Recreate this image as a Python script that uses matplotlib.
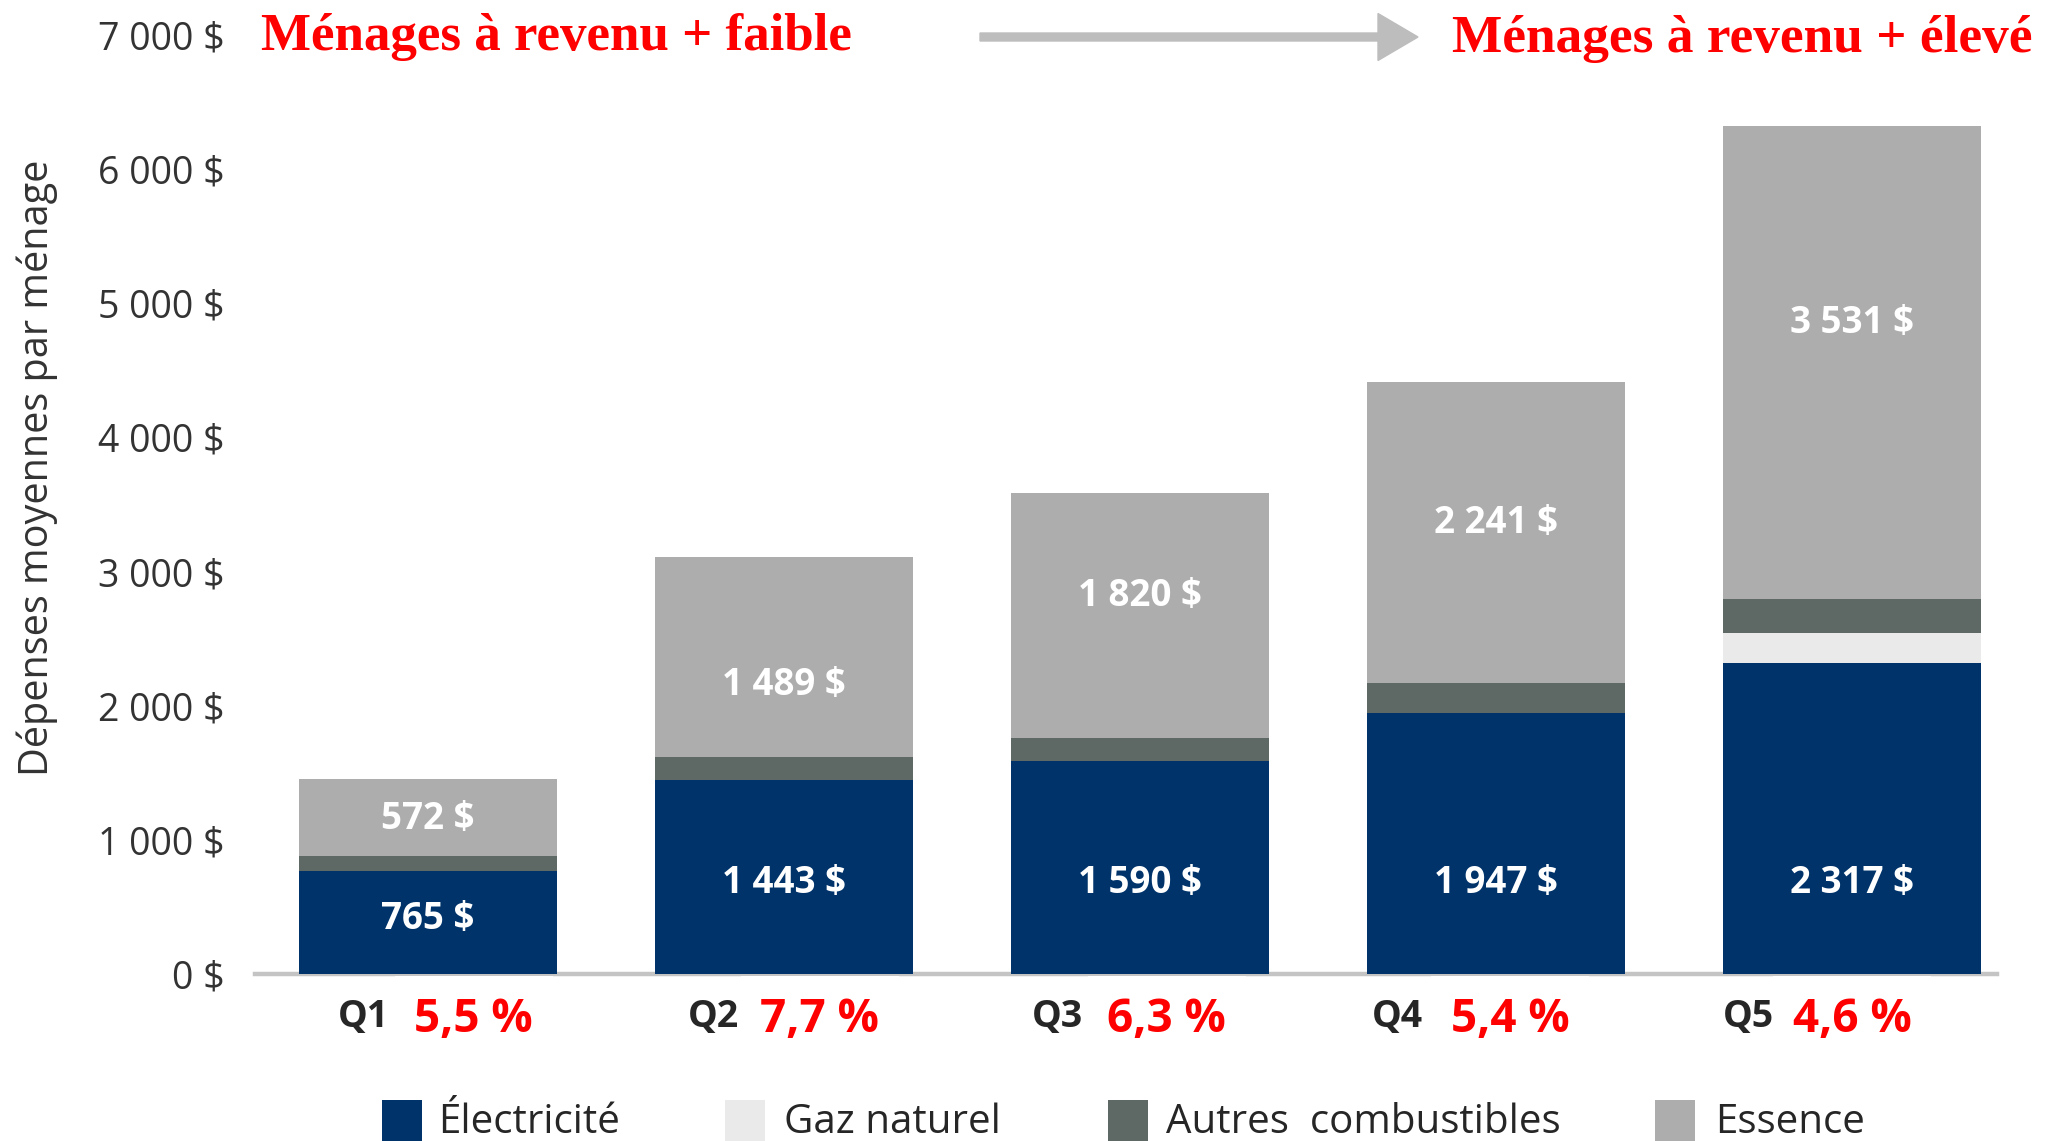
import matplotlib
matplotlib.use("Agg")
import matplotlib.pyplot as plt
from matplotlib.patches import Rectangle, FancyArrow
import matplotlib.transforms as mtransforms
import numpy as np

# data
quintiles = ['Q1', 'Q2', 'Q3', 'Q4', 'Q5']
electricite = [765, 1443, 1590, 1947, 2317]
gaz_naturel = [0, 0, 0, 0, 223]
autres = [118, 176, 173, 223, 252]
essence = [572, 1489, 1820, 2241, 3531]
parts = ['5,5 %', '7,7 %', '6,3 %', '5,4 %', '4,6 %']
yticks = [0, 1000, 2000, 3000, 4000, 5000, 6000, 7000]

series_names = ['Électricité', 'Gaz naturel', 'Autres  combustibles', 'Essence']
colors = ['#00336A', '#EAEAEA', '#5E6864', '#ADADAD']

# label placement (layout), y in data units, x offsets in px
elec_label_y = [410, 677, 677, 677, 677]
ess_label_y = [1153, 2157, 2819, 3362, 4851]
q_dx = [-64, -70, -82, -98, -104]
pct_dx = [46, 36, 27, 14, 0]

W, H = 2049, 1141
fig = plt.figure(figsize=(W / 100, H / 100), dpi=100)

def fx(px):
    return px / W

def fy(py):
    return 1 - py / H

ax = fig.add_axes([fx(255), fy(974), fx(1997) - fx(255), fy(35) - fy(974)])
x = np.arange(len(quintiles))
spacing = 356.1
bw = 258 / spacing

bottom = np.zeros(len(x))
for vals, c in zip([electricite, gaz_naturel, autres, essence], colors):
    ax.bar(x, vals, bw, bottom=bottom, color=c, zorder=2, linewidth=0)
    bottom += np.array(vals)

ax.set_xlim(-(427.5 - 255) / spacing, 4 + (1997 - 1852) / spacing)
ax.set_ylim(0, 7000)
for s in ax.spines.values():
    s.set_visible(False)
ax.axhline(0, color='#C4C4C4', lw=3.2, zorder=1, clip_on=False)

ax.set_xticks([])
ax.set_yticks(yticks)
ax.set_yticklabels(['{:,}'.format(v).replace(',', ' ') + ' $' for v in yticks],
                   fontsize=27, color='#333333', family='Open Sans')
ax.tick_params(axis='y', length=0, pad=22)

fmt = lambda v: '{:,}'.format(v).replace(',', ' ') + ' $'
for i in x:
    ax.text(i, elec_label_y[i], fmt(electricite[i]), ha='center', va='center',
            color='white', fontsize=26.5, fontweight='bold', family='Open Sans', zorder=3)
    ax.text(i, ess_label_y[i], fmt(essence[i]), ha='center', va='center',
            color='white', fontsize=26.5, fontweight='bold', family='Open Sans', zorder=3)

# quintile names and red percentages under the bars
trans = mtransforms.blended_transform_factory(ax.transData, fig.transFigure)
for i in x:
    ax.text(i + q_dx[i] / spacing, fy(1017), quintiles[i], transform=trans,
            ha='center', va='center', fontsize=27, fontweight='bold',
            color='#262626', family='Open Sans')
    cx = i + pct_dx[i] / spacing
    ax.add_patch(Rectangle((cx - 79 / spacing, fy(1057)), 158 / spacing, fy(976) - fy(1057),
                           transform=trans, facecolor='white', edgecolor='none',
                           zorder=1.5, clip_on=False))
    ax.text(cx, fy(1019), parts[i], transform=trans, ha='center', va='center',
            fontsize=33, fontweight='bold', color='#FF0000', family='Open Sans')

fig.text(fx(37), fy(468), 'Dépenses moyennes par ménage', rotation=90,
         ha='center', va='center', fontsize=28.5, color='#333333', family='Open Sans')

# red headings and arrow
fig.text(fx(261), fy(50), 'Ménages à revenu + faible', ha='left', va='baseline',
         fontsize=38.2, fontweight='bold', color='#FF0000', family='Liberation Serif')
fig.text(fx(1452), fy(52), 'Ménages à revenu + élevé', ha='left', va='baseline',
         fontsize=38.4, fontweight='bold', color='#FF0000', family='Liberation Serif')
fig.add_artist(FancyArrow(fx(980), fy(37), fx(1418) - fx(980), 0,
                          width=8 / H, head_width=47 / H, head_length=40 / W,
                          length_includes_head=True, color='#BDBDBD',
                          transform=fig.transFigure))

# legend
leg_sq = [382, 725, 1108, 1655]
leg_tx = [438, 784, 1166, 1715]
for sx, tx, c, name in zip(leg_sq, leg_tx, colors, series_names):
    fig.add_artist(Rectangle((fx(sx), fy(1141)), fx(40), 41 / H,
                             transform=fig.transFigure, facecolor=c, edgecolor='none'))
    fig.text(fx(tx), fy(1123), name, ha='left', va='center', fontsize=29,
             color='#262626', family='Open Sans')

plt.savefig('out.png', dpi=100)
